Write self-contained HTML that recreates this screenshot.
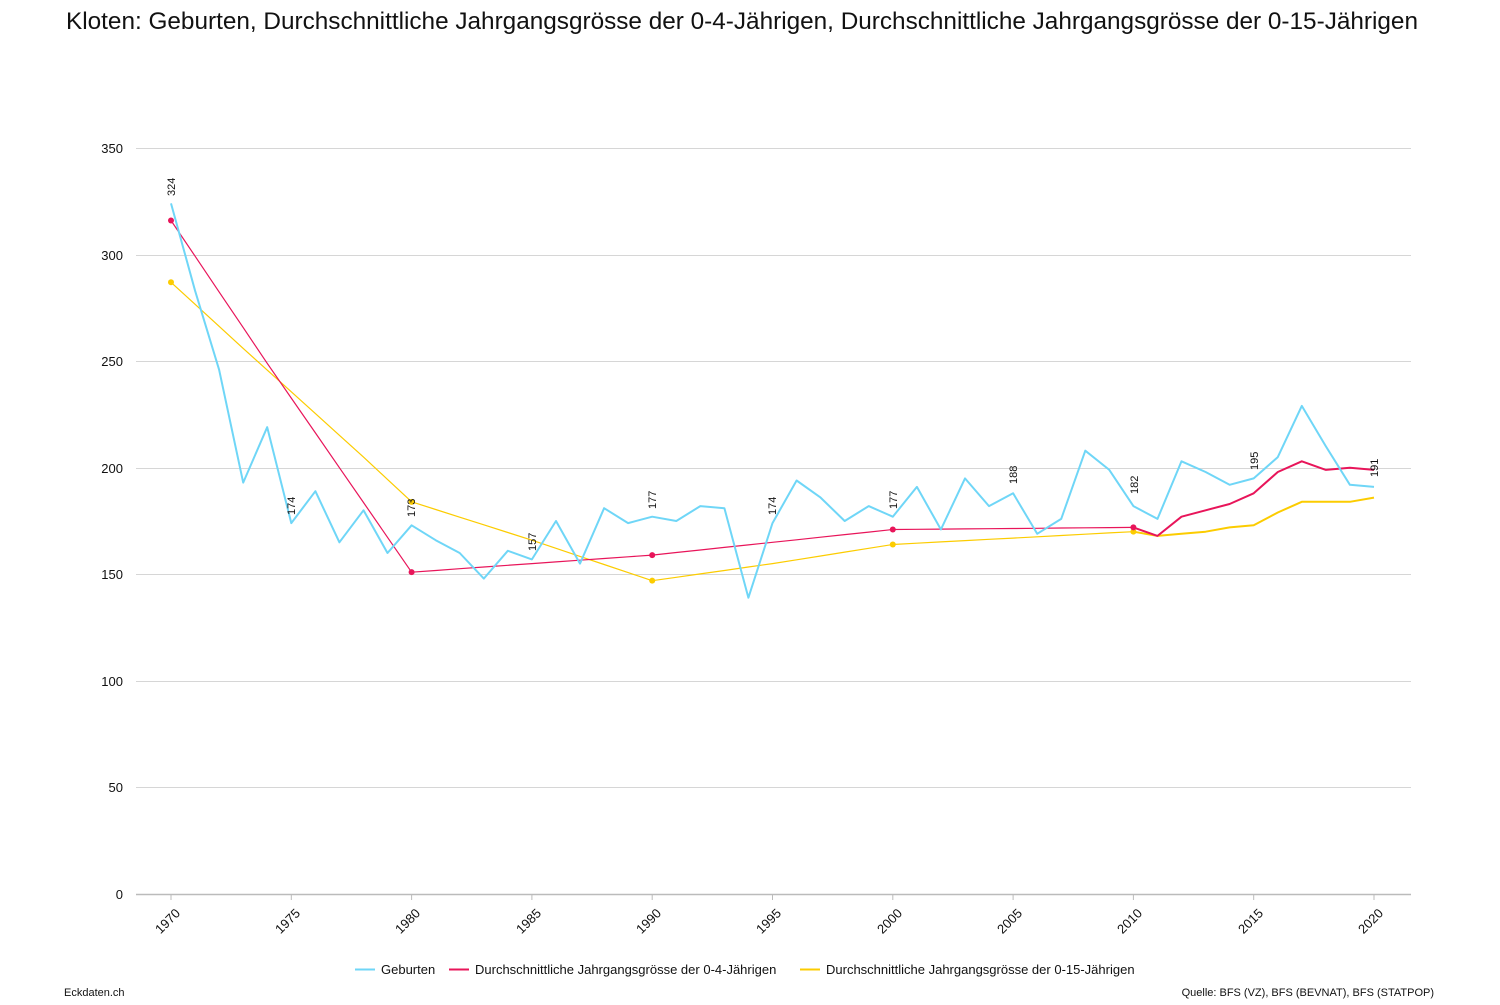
<!DOCTYPE html>
<html><head><meta charset="utf-8"><style>
body{margin:0;background:#fff;width:1500px;height:1000px;overflow:hidden;font-family:"Liberation Sans",sans-serif}
svg text{font-family:"Liberation Sans",sans-serif}
</style></head><body>
<svg id="s" width="1500" height="1000" xmlns="http://www.w3.org/2000/svg">
<text x="742" y="29" font-size="24" text-anchor="middle" fill="#111" textLength="1352" lengthAdjust="spacingAndGlyphs">Kloten: Geburten, Durchschnittliche Jahrgangsgrösse der 0-4-Jährigen, Durchschnittliche Jahrgangsgrösse der 0-15-Jährigen</text>
<g stroke="#d6d6d6" stroke-width="1">
<line x1="136" x2="1411" y1="148.5" y2="148.5"/><line x1="136" x2="1411" y1="255.5" y2="255.5"/>
<line x1="136" x2="1411" y1="361.5" y2="361.5"/><line x1="136" x2="1411" y1="468.5" y2="468.5"/>
<line x1="136" x2="1411" y1="574.5" y2="574.5"/><line x1="136" x2="1411" y1="681.5" y2="681.5"/>
<line x1="136" x2="1411" y1="787.5" y2="787.5"/>
</g>
<line x1="136" x2="1411" y1="894.5" y2="894.5" stroke="#bbb" stroke-width="1.5"/>
<g font-size="13" fill="#111" text-anchor="end">
<text x="123" y="153">350</text><text x="123" y="260">300</text><text x="123" y="366">250</text>
<text x="123" y="473">200</text><text x="123" y="579">150</text><text x="123" y="686">100</text>
<text x="123" y="792">50</text><text x="123" y="899">0</text>
</g>
<g id="xt" font-size="13" fill="#111" text-anchor="end">
<text transform="translate(181,914) rotate(-45)">1970</text>
<text transform="translate(301,914) rotate(-45)">1975</text>
<text transform="translate(421,914) rotate(-45)">1980</text>
<text transform="translate(542,914) rotate(-45)">1985</text>
<text transform="translate(662,914) rotate(-45)">1990</text>
<text transform="translate(782,914) rotate(-45)">1995</text>
<text transform="translate(903,914) rotate(-45)">2000</text>
<text transform="translate(1023,914) rotate(-45)">2005</text>
<text transform="translate(1143,914) rotate(-45)">2010</text>
<text transform="translate(1264,914) rotate(-45)">2015</text>
<text transform="translate(1384,914) rotate(-45)">2020</text>
</g>
<g id="ticks" stroke="#bbb"></g>
<g id="lines"></g>
<g font-size="11" fill="#111">
<text transform="translate(175,196) rotate(-90)">324</text>
<text transform="translate(295,515) rotate(-90)">174</text>
<text transform="translate(415,517) rotate(-90)">173</text>
<text transform="translate(536,551) rotate(-90)">157</text>
<text transform="translate(656,509) rotate(-90)">177</text>
<text transform="translate(776,515) rotate(-90)">174</text>
<text transform="translate(897,509) rotate(-90)">177</text>
<text transform="translate(1017,484) rotate(-90)">188</text>
<text transform="translate(1138,494) rotate(-90)">182</text>
<text transform="translate(1258,470) rotate(-90)">195</text>
<text transform="translate(1378,477) rotate(-90)">191</text>
</g>
<g font-size="13" fill="#111">
<line x1="355" x2="375" y1="969.5" y2="969.5" stroke="#6fd6f7" stroke-width="2"/><text x="381" y="974">Geburten</text>
<line x1="449" x2="469" y1="969.5" y2="969.5" stroke="#e8155a" stroke-width="2"/><text x="475" y="974">Durchschnittliche Jahrgangsgrösse der 0-4-Jährigen</text>
<line x1="800" x2="820" y1="969.5" y2="969.5" stroke="#fccc00" stroke-width="2"/><text x="826" y="974">Durchschnittliche Jahrgangsgrösse der 0-15-Jährigen</text>
</g>
<text x="64" y="996" font-size="11" fill="#111">Eckdaten.ch</text>
<text x="1434" y="996" font-size="11" fill="#111" text-anchor="end">Quelle: BFS (VZ), BFS (BEVNAT), BFS (STATPOP)</text>
</svg>
<script>
var X=y=>171+(y-1970)*24.06, Y=v=>894-v*2.1314, NS="http://www.w3.org/2000/svg";
var t=document.getElementById('ticks');
for(var yr=1970;yr<=2020;yr+=5){var l=document.createElementNS(NS,'line');l.setAttribute('x1',X(yr));l.setAttribute('x2',X(yr));l.setAttribute('y1',894);l.setAttribute('y2',900);t.appendChild(l);}
var geb=[324,283,246,193,219,174,189,165,180,160,173,166,160,148,161,157,175,155,181,174,177,175,182,181,139,174,194,186,175,182,177,191,171,195,182,188,169,176,208,199,182,176,203,198,192,195,205,229,210,192,191];
function interp(a){var r=[];for(var i=0;i<a.length-1;i++){var [y0,v0]=a[i],[y1,v1]=a[i+1];for(var y=y0;y<y1;y++)r.push(v0+(v1-v0)*(y-y0)/(y1-y0));}r.push(a[a.length-1][1]);return r;}
var red=interp([[1970,316],[1974,249],[1980,151],[1985,155],[1990,159],[1995,165],[2000,171],[2010,172],[2011,168],[2012,177],[2013,180],[2014,183],[2015,188],[2016,198],[2017,203],[2018,199],[2019,200],[2020,199]]);
var yel=interp([[1970,287],[1973,256],[1978,205],[1980,184],[1985,166],[1990,147],[1995,155],[2000,164],[2010,170],[2011,168],[2012,169],[2013,170],[2014,172],[2015,173],[2016,179],[2017,184],[2018,184],[2019,184],[2020,186]]);
var g=document.getElementById('lines');
function path(arr,from,to,col,w){var d='';for(var i=from;i<=to;i++)d+=(i==from?'M':'L')+X(1970+i).toFixed(1)+','+Y(arr[i]).toFixed(1);var p=document.createElementNS(NS,'path');p.setAttribute('d',d);p.setAttribute('fill','none');p.setAttribute('stroke',col);p.setAttribute('stroke-width',w);p.setAttribute('stroke-linejoin','round');g.appendChild(p);}
path(yel,0,40,'#fccc00',1.2);path(yel,40,50,'#fccc00',2);
path(red,0,40,'#e8155a',1.2);path(red,40,50,'#e8155a',2);
path(geb,0,50,'#6fd6f7',2);
[0,10,20,30,40].forEach(function(i){[[yel,'#fccc00'],[red,'#e8155a']].forEach(function(s){var c=document.createElementNS(NS,'circle');c.setAttribute('cx',X(1970+i));c.setAttribute('cy',Y(s[0][i]));c.setAttribute('r',3);c.setAttribute('fill',s[1]);g.appendChild(c);});});
</script>
</body></html>
